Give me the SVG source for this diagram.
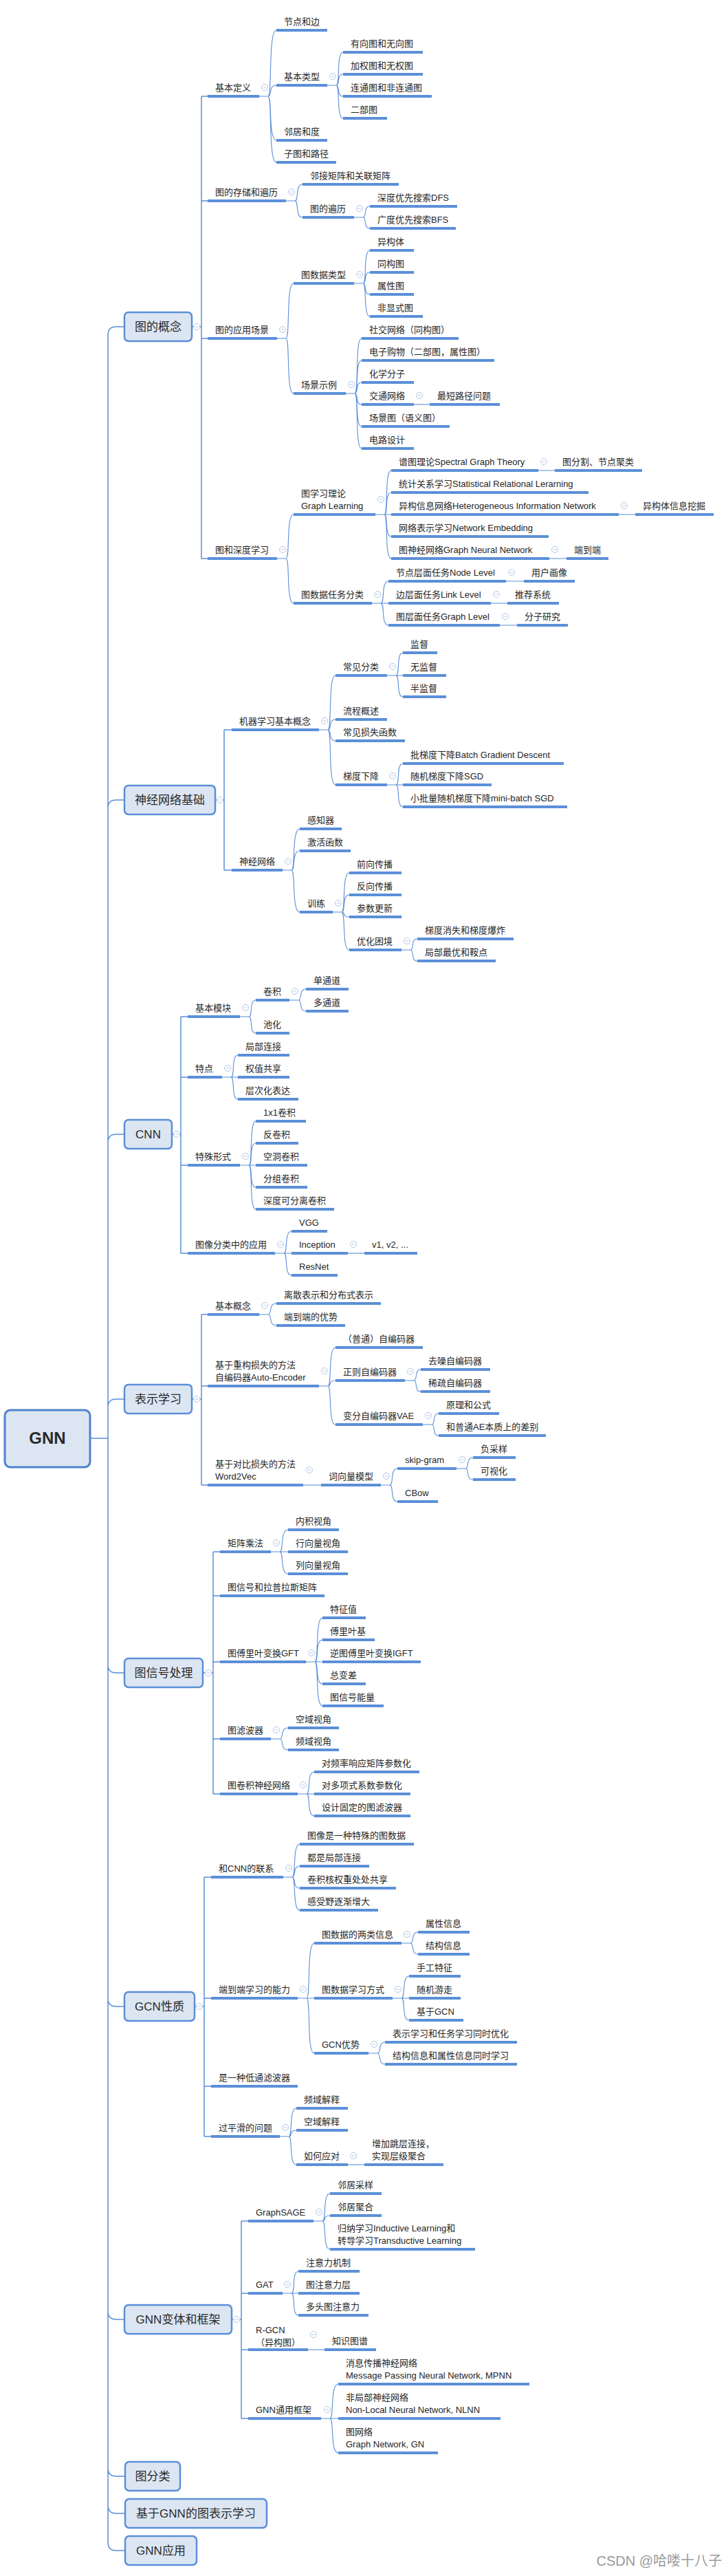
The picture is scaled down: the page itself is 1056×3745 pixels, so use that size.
<svg xmlns="http://www.w3.org/2000/svg" xmlns:xlink="http://www.w3.org/1999/xlink" width="1056" height="3745" viewBox="0 0 1056 3745">
<style>
.t{font-family:"Liberation Sans","Noto Sans CJK SC",sans-serif;font-size:13px;fill:#262626}
.m{font-family:"Liberation Sans","Noto Sans CJK SC",sans-serif;font-size:17px;fill:#2a2a2a;text-anchor:middle}
.r{font-family:"Liberation Sans","Noto Sans CJK SC",sans-serif;font-size:24px;font-weight:bold;fill:#2a2a2a;text-anchor:middle}
.u{fill:#5b8fd8}
.b{fill:#dce6f3;stroke:#5b8fd8;stroke-width:2.5}
.rb{fill:#dce6f3;stroke:#4f83cc;stroke-width:3}
.c{fill:none;stroke:#5b8fd8;stroke-width:1.1}
.c2{fill:none;stroke:#5b8fd8;stroke-width:1.5}
.w{font-family:"Liberation Sans","Noto Sans CJK SC",sans-serif;font-size:20px;fill:#9a9a9a;text-anchor:end}
</style>
<defs>
<g id="ic"><circle r="4.5" fill="#fff" stroke="#b3c6e6" stroke-width="1"/><path d="M-2.2 0H2.2" stroke="#b3c6e6" stroke-width="1"/></g>
</defs>
<rect width="1056" height="3745" fill="#fff"/>

<g id="connectors">
<!-- main trunk -->
<path class="c2" d="M131 2091H157 M157 2091V487Q157 475 169 475H181 M157 2091V1175Q157 1163 169 1163H181 M157 2091V1661Q157 1649 169 1649H181 M157 2091V2046Q157 2034 169 2034H181 M157 2091V2420Q157 2432 169 2432H181 M157 2091V2905Q157 2917 169 2917H181 M157 2091V3360Q157 3372 169 3372H181 M157 2091V3588Q157 3600 169 3600H182 M157 2091V3642Q157 3654 169 3654H182 M157 2091V3696Q157 3708 169 3708H182"/>
<!-- branch trunks -->
<path class="c2" d="M279 475H293 M293 140V812 M293 140H302 M293 292H302 M293 492H302 M293 812H302"/>
<path class="c2" d="M313 1163H326 M326 1061V1265 M326 1061H337 M326 1265H337"/>
<path class="c2" d="M250 1649H263 M263 1478V1822 M263 1478H273 M263 1566H273 M263 1694H273 M263 1822H273"/>
<path class="c2" d="M279 2034H293 M293 1911V2159 M293 1911H302 M293 2015H302 M293 2159H302"/>
<path class="c2" d="M295 2432H310 M310 2256V2608 M310 2256H320 M310 2320H320 M310 2416H320 M310 2528H320 M310 2608H320"/>
<path class="c2" d="M283 2917H297 M297 2729V3106 M297 2729H307 M297 2905H307 M297 3033H307 M297 3106H307"/>
<path class="c2" d="M337 3372H351 M351 3229V3516 M351 3229H361 M351 3334H361 M351 3416H361 M351 3516H361"/>
<!-- branch 1 -->
<path class="c" d="M377 140H390 M390 140C396 140 390 44 402 44 M390 140C396 140 390 124 402 124 M390 140C396 140 390 204 402 204 M390 140C396 140 390 236 402 236"/>
<path class="c" d="M476 124H489 M489 124C495 124 489 76 499 76 M489 124C495 124 489 108 499 108 M489 124C495 124 489 140 499 140 M489 124C495 124 489 172 499 172"/>
<path class="c" d="M416 292H429 M429 292C435 292 429 268 440 268 M429 292C435 292 429 316 440 316"/>
<path class="c" d="M515 316H528 M528 316C534 316 528 300 538 300 M528 316C534 316 528 332 538 332"/>
<path class="c" d="M403 492H416 M416 492C422 492 416 412 427 412 M416 492C422 492 416 572 427 572"/>
<path class="c" d="M515 412H528 M528 412C534 412 528 364 538 364 M528 412C534 412 528 396 538 396 M528 412C534 412 528 428 538 428 M528 412C534 412 528 460 538 460"/>
<path class="c" d="M503 572H516 M516 572C522 572 516 492 526 492 M516 572C522 572 516 524 526 524 M516 572C522 572 516 556 526 556 M516 572C522 572 516 588 526 588 M516 572C522 572 516 620 526 620 M516 572C522 572 516 652 526 652"/>
<path class="c" d="M602 588H625"/>
<path class="c" d="M403 812H416 M416 812C422 812 416 748 427 748 M416 812C422 812 416 877 427 877"/>
<path class="c" d="M546 748H559 M559 748C565 748 559 684 569 684 M559 748C565 748 559 716 569 716 M559 748C565 748 559 748 569 748 M559 748C565 748 559 780 569 780 M559 748C565 748 559 812 569 812"/>
<path class="c" d="M783 684H807 M900 748H924 M799 812H824"/>
<path class="c" d="M541 877H554 M554 877C560 877 554 845 565 845 M554 877C560 877 554 877 565 877 M554 877C560 877 554 909 565 909"/>
<path class="c" d="M736 845H762 M714 877H738 M727 909H752"/>
<!-- branch 2 -->
<path class="c" d="M464 1061H477 M477 1061C483 1061 477 982 488 982 M477 1061C483 1061 477 1046 488 1046 M477 1061C483 1061 477 1077 488 1077 M477 1061C483 1061 477 1141 488 1141"/>
<path class="c" d="M563 982H576 M576 982C582 982 576 949 586 949 M576 982C582 982 576 982 586 982 M576 982C582 982 576 1013 586 1013"/>
<path class="c" d="M563 1141H576 M576 1141C582 1141 576 1110 586 1110 M576 1141C582 1141 576 1141 586 1141 M576 1141C582 1141 576 1173 586 1173"/>
<path class="c" d="M411 1265H424 M424 1265C430 1265 424 1205 436 1205 M424 1265C430 1265 424 1237 436 1237 M424 1265C430 1265 424 1326 436 1326"/>
<path class="c" d="M484 1326H497 M497 1326C503 1326 497 1269 508 1269 M497 1326C503 1326 497 1301 508 1301 M497 1326C503 1326 497 1333 508 1333 M497 1326C503 1326 497 1381 508 1381"/>
<path class="c" d="M584 1381H597 M597 1381C603 1381 597 1365 607 1365 M597 1381C603 1381 597 1397 607 1397"/>
<!-- branch 3 -->
<path class="c" d="M349 1478H362 M362 1478C368 1478 362 1454 372 1454 M362 1478C368 1478 362 1502 372 1502"/>
<path class="c" d="M421 1454H434 M434 1454C440 1454 434 1438 445 1438 M434 1454C440 1454 434 1470 445 1470"/>
<path class="c" d="M323 1566H336 M336 1566C342 1566 336 1534 346 1534 M336 1566C342 1566 336 1566 346 1566 M336 1566C342 1566 336 1598 346 1598"/>
<path class="c" d="M349 1694H362 M362 1694C368 1694 362 1630 372 1630 M362 1694C368 1694 362 1662 372 1662 M362 1694C368 1694 362 1694 372 1694 M362 1694C368 1694 362 1726 372 1726 M362 1694C368 1694 362 1758 372 1758"/>
<path class="c" d="M400 1822H413 M413 1822C419 1822 413 1790 424 1790 M413 1822C419 1822 413 1822 424 1822 M413 1822C419 1822 413 1854 424 1854"/>
<path class="c" d="M506 1822H530"/>
<!-- branch 4 -->
<path class="c" d="M377 1911H390 M390 1911C396 1911 390 1895 402 1895 M390 1911C396 1911 390 1927 402 1927"/>
<path class="c" d="M464 2015H477 M477 2015C483 2015 477 1959 488 1959 M477 2015C483 2015 477 2007 488 2007 M477 2015C483 2015 477 2071 488 2071"/>
<path class="c" d="M589 2007H602 M602 2007C608 2007 602 1991 612 1991 M602 2007C608 2007 602 2023 612 2023"/>
<path class="c" d="M615 2071H628 M628 2071C634 2071 628 2055 638 2055 M628 2071C634 2071 628 2087 638 2087"/>
<path class="c" d="M441 2159H467"/>
<path class="c" d="M554 2159H567 M567 2159C573 2159 567 2135 578 2135 M567 2159C573 2159 567 2183 578 2183"/>
<path class="c" d="M664 2135H677 M677 2135C683 2135 677 2119 688 2119 M677 2135C683 2135 677 2151 688 2151"/>
<!-- branch 5 -->
<path class="c" d="M394 2256H407 M407 2256C413 2256 407 2224 419 2224 M407 2256C413 2256 407 2256 419 2256 M407 2256C413 2256 407 2288 419 2288"/>
<path class="c" d="M445 2416H458 M458 2416C464 2416 458 2352 469 2352 M458 2416C464 2416 458 2384 469 2384 M458 2416C464 2416 458 2416 469 2416 M458 2416C464 2416 458 2448 469 2448 M458 2416C464 2416 458 2480 469 2480"/>
<path class="c" d="M394 2528H407 M407 2528C413 2528 407 2512 419 2512 M407 2528C413 2528 407 2544 419 2544"/>
<path class="c" d="M433 2608H446 M446 2608C452 2608 446 2576 457 2576 M446 2608C452 2608 446 2608 457 2608 M446 2608C452 2608 446 2640 457 2640"/>
<!-- branch 6 -->
<path class="c" d="M412 2729H425 M425 2729C431 2729 425 2681 436 2681 M425 2729C431 2729 425 2713 436 2713 M425 2729C431 2729 425 2745 436 2745 M425 2729C431 2729 425 2777 436 2777"/>
<path class="c" d="M433 2905H446 M446 2905C452 2905 446 2825 457 2825 M446 2905C452 2905 446 2905 457 2905 M446 2905C452 2905 446 2985 457 2985"/>
<path class="c" d="M584 2825H597 M597 2825C603 2825 597 2809 608 2809 M597 2825C603 2825 597 2841 608 2841"/>
<path class="c" d="M571 2905H584 M584 2905C590 2905 584 2873 595 2873 M584 2905C590 2905 584 2905 595 2905 M584 2905C590 2905 584 2937 595 2937"/>
<path class="c" d="M536 2985H549 M549 2985C555 2985 549 2969 560 2969 M549 2985C555 2985 549 3001 560 3001"/>
<path class="c" d="M407 3106H420 M420 3106C426 3106 420 3065 431 3065 M420 3106C426 3106 420 3097 431 3097 M420 3106C426 3106 420 3147 431 3147"/>
<path class="c" d="M506 3147H530"/>
<!-- branch 7 -->
<path class="c" d="M456 3229H469 M469 3229C475 3229 469 3189 480 3189 M469 3229C475 3229 469 3221 480 3221 M469 3229C475 3229 469 3270 480 3270"/>
<path class="c" d="M411 3334H424 M424 3334C430 3334 424 3302 434 3302 M424 3334C430 3334 424 3334 434 3334 M424 3334C430 3334 424 3366 434 3366"/>
<path class="c" d="M448 3416H472"/>
<path class="c" d="M467 3516H480 M480 3516C486 3516 480 3466 492 3466 M480 3516C486 3516 480 3516 492 3516 M480 3516C486 3516 480 3566 492 3566"/>
</g>

<g id="root"><rect class="rb" x="7" y="2050" width="124" height="83" rx="8"/><text class="r" x="69" y="2099">GNN</text></g>

<!-- main topics -->
<g id="m1"><rect class="b" x="181" y="454" width="98" height="42" rx="6"/><text class="m" x="230" y="481">图的概念</text><use href="#ic" x="286" y="475"/></g>
<g id="m2"><rect class="b" x="181" y="1142" width="132" height="42" rx="6"/><text class="m" x="247" y="1169">神经网络基础</text><use href="#ic" x="320" y="1163"/></g>
<g id="m3"><rect class="b" x="181" y="1628" width="69" height="42" rx="6"/><text class="m" x="215.5" y="1655">CNN</text><use href="#ic" x="257" y="1649"/></g>
<g id="m4"><rect class="b" x="181" y="2013" width="98" height="42" rx="6"/><text class="m" x="230" y="2040">表示学习</text><use href="#ic" x="286" y="2034"/></g>
<g id="m5"><rect class="b" x="181" y="2411" width="114" height="42" rx="6"/><text class="m" x="238" y="2438">图信号处理</text><use href="#ic" x="303" y="2432"/></g>
<g id="m6"><rect class="b" x="181" y="2896" width="102" height="42" rx="6"/><text class="m" x="232" y="2923">GCN性质</text><use href="#ic" x="290" y="2917"/></g>
<g id="m7"><rect class="b" x="181" y="3351" width="156" height="42" rx="6"/><text class="m" x="259" y="3378">GNN变体和框架</text><use href="#ic" x="344" y="3372"/></g>
<g id="m8"><rect class="b" x="182" y="3579" width="80" height="42" rx="6"/><text class="m" x="222" y="3606">图分类</text></g>
<g id="m9"><rect class="b" x="182" y="3633" width="206" height="42" rx="6"/><text class="m" x="285" y="3660">基于GNN的图表示学习</text></g>
<g id="m10"><rect class="b" x="182" y="3687" width="104" height="42" rx="6"/><text class="m" x="234" y="3714">GNN应用</text></g>

<!-- branch 1 nodes -->
<g id="n101"><rect class="u" x="302" y="138" width="75" height="4"/><text class="t" x="313" y="132">基本定义</text><use href="#ic" x="385" y="127"/></g>
<g id="n102"><rect class="u" x="402" y="42" width="74" height="4"/><text class="t" x="413" y="36">节点和边</text></g>
<g id="n103"><rect class="u" x="402" y="122" width="74" height="4"/><text class="t" x="413" y="116">基本类型</text><use href="#ic" x="484" y="111"/></g>
<g id="n104"><rect class="u" x="499" y="74" width="116" height="4"/><text class="t" x="510" y="68">有向图和无向图</text></g>
<g id="n105"><rect class="u" x="499" y="106" width="116" height="4"/><text class="t" x="510" y="100">加权图和无权图</text></g>
<g id="n106"><rect class="u" x="499" y="138" width="129" height="4"/><text class="t" x="510" y="132">连通图和非连通图</text></g>
<g id="n107"><rect class="u" x="499" y="170" width="64" height="4"/><text class="t" x="510" y="164">二部图</text></g>
<g id="n108"><rect class="u" x="402" y="202" width="74" height="4"/><text class="t" x="413" y="196">邻居和度</text></g>
<g id="n109"><rect class="u" x="402" y="234" width="87" height="4"/><text class="t" x="413" y="228">子图和路径</text></g>
<g id="n110"><rect class="u" x="302" y="290" width="114" height="4"/><text class="t" x="313" y="284">图的存储和遍历</text><use href="#ic" x="424" y="279"/></g>
<g id="n111"><rect class="u" x="440" y="266" width="140" height="4"/><text class="t" x="451" y="260">邻接矩阵和关联矩阵</text></g>
<g id="n112"><rect class="u" x="440" y="314" width="75" height="4"/><text class="t" x="451" y="308">图的遍历</text><use href="#ic" x="523" y="303"/></g>
<g id="n113"><rect class="u" x="538" y="298" width="127" height="4"/><text class="t" x="549" y="292">深度优先搜索DFS</text></g>
<g id="n114"><rect class="u" x="538" y="330" width="125" height="4"/><text class="t" x="549" y="324">广度优先搜索BFS</text></g>
<g id="n115"><rect class="u" x="302" y="490" width="101" height="4"/><text class="t" x="313" y="484">图的应用场景</text><use href="#ic" x="411" y="479"/></g>
<g id="n116"><rect class="u" x="427" y="410" width="88" height="4"/><text class="t" x="438" y="404">图数据类型</text><use href="#ic" x="523" y="399"/></g>
<g id="n117"><rect class="u" x="538" y="362" width="64" height="4"/><text class="t" x="549" y="356">异构体</text></g>
<g id="n118"><rect class="u" x="538" y="394" width="64" height="4"/><text class="t" x="549" y="388">同构图</text></g>
<g id="n119"><rect class="u" x="538" y="426" width="64" height="4"/><text class="t" x="549" y="420">属性图</text></g>
<g id="n120"><rect class="u" x="538" y="458" width="77" height="4"/><text class="t" x="549" y="452">非显式图</text></g>
<g id="n121"><rect class="u" x="427" y="570" width="76" height="4"/><text class="t" x="438" y="564">场景示例</text><use href="#ic" x="511" y="559"/></g>
<g id="n122"><rect class="u" x="526" y="490" width="141" height="4"/><text class="t" x="537" y="484">社交网络（同构图）</text></g>
<g id="n123"><rect class="u" x="526" y="522" width="193" height="4"/><text class="t" x="537" y="516">电子购物（二部图，属性图）</text></g>
<g id="n124"><rect class="u" x="526" y="554" width="76" height="4"/><text class="t" x="537" y="548">化学分子</text></g>
<g id="n125"><rect class="u" x="526" y="586" width="76" height="4"/><text class="t" x="537" y="580">交通网络</text><use href="#ic" x="610" y="575"/></g>
<g id="n126"><rect class="u" x="625" y="586" width="102" height="4"/><text class="t" x="636" y="580">最短路径问题</text></g>
<g id="n127"><rect class="u" x="526" y="618" width="128" height="4"/><text class="t" x="537" y="612">场景图（语义图）</text></g>
<g id="n128"><rect class="u" x="526" y="650" width="76" height="4"/><text class="t" x="537" y="644">电路设计</text></g>
<g id="n129"><rect class="u" x="302" y="810" width="101" height="4"/><text class="t" x="313" y="804">图和深度学习</text><use href="#ic" x="411" y="799"/></g>
<g id="n130"><rect class="u" x="427" y="746" width="119" height="4"/><text class="t" x="438" y="722">图学习理论</text><text class="t" x="438" y="740">Graph Learning</text><use href="#ic" x="554" y="726"/></g>
<g id="n131"><rect class="u" x="569" y="682" width="214" height="4"/><text class="t" x="580" y="676">谱图理论Spectral Graph Theory</text><use href="#ic" x="791" y="671"/></g>
<g id="n132"><rect class="u" x="807" y="682" width="127" height="4"/><text class="t" x="818" y="676">图分割、节点聚类</text></g>
<g id="n133"><rect class="u" x="569" y="714" width="287" height="4"/><text class="t" x="580" y="708">统计关系学习Statistical Relational Lerarning</text></g>
<g id="n134"><rect class="u" x="569" y="746" width="331" height="4"/><text class="t" x="580" y="740">异构信息网络Heterogeneous Information Network</text><use href="#ic" x="908" y="735"/></g>
<g id="n135"><rect class="u" x="924" y="746" width="114" height="4"/><text class="t" x="935" y="740">异构体信息挖掘</text></g>
<g id="n136"><rect class="u" x="569" y="778" width="229" height="4"/><text class="t" x="580" y="772">网络表示学习Network Embedding</text></g>
<g id="n137"><rect class="u" x="569" y="810" width="230" height="4"/><text class="t" x="580" y="804">图神经网络Graph Neural Network</text><use href="#ic" x="807" y="799"/></g>
<g id="n138"><rect class="u" x="824" y="810" width="61" height="4"/><text class="t" x="835" y="804">端到端</text></g>
<g id="n139"><rect class="u" x="427" y="875" width="114" height="4"/><text class="t" x="438" y="869">图数据任务分类</text><use href="#ic" x="549" y="864"/></g>
<g id="n140"><rect class="u" x="565" y="843" width="171" height="4"/><text class="t" x="576" y="837">节点层面任务Node Level</text><use href="#ic" x="744" y="832"/></g>
<g id="n141"><rect class="u" x="762" y="843" width="74" height="4"/><text class="t" x="773" y="837">用户画像</text></g>
<g id="n142"><rect class="u" x="565" y="875" width="149" height="4"/><text class="t" x="576" y="869">边层面任务Link Level</text><use href="#ic" x="722" y="864"/></g>
<g id="n143"><rect class="u" x="738" y="875" width="75" height="4"/><text class="t" x="749" y="869">推荐系统</text></g>
<g id="n144"><rect class="u" x="565" y="907" width="162" height="4"/><text class="t" x="576" y="901">图层面任务Graph Level</text><use href="#ic" x="735" y="896"/></g>
<g id="n145"><rect class="u" x="752" y="907" width="74" height="4"/><text class="t" x="763" y="901">分子研究</text></g>

<!-- branch 2 nodes -->
<g id="n201"><rect class="u" x="337" y="1059" width="127" height="4"/><text class="t" x="348" y="1053">机器学习基本概念</text><use href="#ic" x="472" y="1048"/></g>
<g id="n202"><rect class="u" x="488" y="980" width="75" height="4"/><text class="t" x="499" y="974">常见分类</text><use href="#ic" x="571" y="969"/></g>
<g id="n203"><rect class="u" x="586" y="947" width="50" height="4"/><text class="t" x="597" y="941">监督</text></g>
<g id="n204"><rect class="u" x="586" y="980" width="63" height="4"/><text class="t" x="597" y="974">无监督</text></g>
<g id="n205"><rect class="u" x="586" y="1011" width="63" height="4"/><text class="t" x="597" y="1005">半监督</text></g>
<g id="n206"><rect class="u" x="488" y="1044" width="75" height="4"/><text class="t" x="499" y="1038">流程概述</text></g>
<g id="n207"><rect class="u" x="488" y="1075" width="101" height="4"/><text class="t" x="499" y="1069">常见损失函数</text></g>
<g id="n208"><rect class="u" x="488" y="1139" width="75" height="4"/><text class="t" x="499" y="1133">梯度下降</text><use href="#ic" x="571" y="1128"/></g>
<g id="n209"><rect class="u" x="586" y="1108" width="234" height="4"/><text class="t" x="597" y="1102">批梯度下降Batch Gradient Descent</text></g>
<g id="n210"><rect class="u" x="586" y="1139" width="129" height="4"/><text class="t" x="597" y="1133">随机梯度下降SGD</text></g>
<g id="n211"><rect class="u" x="586" y="1171" width="239" height="4"/><text class="t" x="597" y="1165">小批量随机梯度下降mini-batch SGD</text></g>
<g id="n212"><rect class="u" x="337" y="1263" width="74" height="4"/><text class="t" x="348" y="1257">神经网络</text><use href="#ic" x="419" y="1252"/></g>
<g id="n213"><rect class="u" x="436" y="1203" width="61" height="4"/><text class="t" x="447" y="1197">感知器</text></g>
<g id="n214"><rect class="u" x="436" y="1235" width="74" height="4"/><text class="t" x="447" y="1229">激活函数</text></g>
<g id="n215"><rect class="u" x="436" y="1324" width="48" height="4"/><text class="t" x="447" y="1318">训练</text><use href="#ic" x="492" y="1313"/></g>
<g id="n216"><rect class="u" x="508" y="1267" width="76" height="4"/><text class="t" x="519" y="1261">前向传播</text></g>
<g id="n217"><rect class="u" x="508" y="1299" width="76" height="4"/><text class="t" x="519" y="1293">反向传播</text></g>
<g id="n218"><rect class="u" x="508" y="1331" width="76" height="4"/><text class="t" x="519" y="1325">参数更新</text></g>
<g id="n219"><rect class="u" x="508" y="1379" width="76" height="4"/><text class="t" x="519" y="1373">优化困境</text><use href="#ic" x="592" y="1368"/></g>
<g id="n220"><rect class="u" x="607" y="1363" width="140" height="4"/><text class="t" x="618" y="1357">梯度消失和梯度爆炸</text></g>
<g id="n221"><rect class="u" x="607" y="1395" width="114" height="4"/><text class="t" x="618" y="1389">局部最优和鞍点</text></g>

<!-- branch 3 nodes -->
<g id="n301"><rect class="u" x="273" y="1476" width="76" height="4"/><text class="t" x="284" y="1470">基本模块</text><use href="#ic" x="357" y="1465"/></g>
<g id="n302"><rect class="u" x="372" y="1452" width="49" height="4"/><text class="t" x="383" y="1446">卷积</text><use href="#ic" x="429" y="1441"/></g>
<g id="n303"><rect class="u" x="445" y="1436" width="62" height="4"/><text class="t" x="456" y="1430">单通道</text></g>
<g id="n304"><rect class="u" x="445" y="1468" width="62" height="4"/><text class="t" x="456" y="1462">多通道</text></g>
<g id="n305"><rect class="u" x="372" y="1500" width="49" height="4"/><text class="t" x="383" y="1494">池化</text></g>
<g id="n306"><rect class="u" x="273" y="1564" width="50" height="4"/><text class="t" x="284" y="1558">特点</text><use href="#ic" x="331" y="1553"/></g>
<g id="n307"><rect class="u" x="346" y="1532" width="75" height="4"/><text class="t" x="357" y="1526">局部连接</text></g>
<g id="n308"><rect class="u" x="346" y="1564" width="75" height="4"/><text class="t" x="357" y="1558">权值共享</text></g>
<g id="n309"><rect class="u" x="346" y="1596" width="88" height="4"/><text class="t" x="357" y="1590">层次化表达</text></g>
<g id="n310"><rect class="u" x="273" y="1692" width="76" height="4"/><text class="t" x="284" y="1686">特殊形式</text><use href="#ic" x="357" y="1681"/></g>
<g id="n311"><rect class="u" x="372" y="1628" width="73" height="4"/><text class="t" x="383" y="1622">1x1卷积</text></g>
<g id="n312"><rect class="u" x="372" y="1660" width="62" height="4"/><text class="t" x="383" y="1654">反卷积</text></g>
<g id="n313"><rect class="u" x="372" y="1692" width="75" height="4"/><text class="t" x="383" y="1686">空洞卷积</text></g>
<g id="n314"><rect class="u" x="372" y="1724" width="75" height="4"/><text class="t" x="383" y="1718">分组卷积</text></g>
<g id="n315"><rect class="u" x="372" y="1756" width="114" height="4"/><text class="t" x="383" y="1750">深度可分离卷积</text></g>
<g id="n316"><rect class="u" x="273" y="1820" width="127" height="4"/><text class="t" x="284" y="1814">图像分类中的应用</text><use href="#ic" x="408" y="1809"/></g>
<g id="n317"><rect class="u" x="424" y="1788" width="52" height="4"/><text class="t" x="435" y="1782">VGG</text></g>
<g id="n318"><rect class="u" x="424" y="1820" width="82" height="4"/><text class="t" x="435" y="1814">Inception</text><use href="#ic" x="514" y="1809"/></g>
<g id="n319"><rect class="u" x="530" y="1820" width="77" height="4"/><text class="t" x="541" y="1814">v1, v2, ...</text></g>
<g id="n320"><rect class="u" x="424" y="1852" width="67" height="4"/><text class="t" x="435" y="1846">ResNet</text></g>

<!-- branch 4 nodes -->
<g id="n401"><rect class="u" x="302" y="1909" width="75" height="4"/><text class="t" x="313" y="1903">基本概念</text><use href="#ic" x="385" y="1898"/></g>
<g id="n402"><rect class="u" x="402" y="1893" width="152" height="4"/><text class="t" x="413" y="1887">离散表示和分布式表示</text></g>
<g id="n403"><rect class="u" x="402" y="1925" width="100" height="4"/><text class="t" x="413" y="1919">端到端的优势</text></g>
<g id="n404"><rect class="u" x="302" y="2013" width="162" height="4"/><text class="t" x="313" y="1989">基于重构损失的方法</text><text class="t" x="313" y="2007">自编码器Auto-Encoder</text><use href="#ic" x="472" y="1993"/></g>
<g id="n405"><rect class="u" x="488" y="1957" width="127" height="4"/><text class="t" x="499" y="1951">（普通）自编码器</text></g>
<g id="n406"><rect class="u" x="488" y="2005" width="101" height="4"/><text class="t" x="499" y="1999">正则自编码器</text><use href="#ic" x="597" y="1994"/></g>
<g id="n407"><rect class="u" x="612" y="1989" width="101" height="4"/><text class="t" x="623" y="1983">去噪自编码器</text></g>
<g id="n408"><rect class="u" x="612" y="2021" width="101" height="4"/><text class="t" x="623" y="2015">稀疏自编码器</text></g>
<g id="n409"><rect class="u" x="488" y="2069" width="127" height="4"/><text class="t" x="499" y="2063">变分自编码器VAE</text><use href="#ic" x="623" y="2058"/></g>
<g id="n410"><rect class="u" x="638" y="2053" width="88" height="4"/><text class="t" x="649" y="2047">原理和公式</text></g>
<g id="n411"><rect class="u" x="638" y="2085" width="156" height="4"/><text class="t" x="649" y="2079">和普通AE本质上的差别</text></g>
<g id="n412"><rect class="u" x="302" y="2157" width="139" height="4"/><text class="t" x="313" y="2133">基于对比损失的方法</text><text class="t" x="313" y="2151">Word2Vec</text><use href="#ic" x="450" y="2137"/></g>
<g id="n413"><rect class="u" x="467" y="2157" width="87" height="4"/><text class="t" x="478" y="2151">词向量模型</text><use href="#ic" x="562" y="2146"/></g>
<g id="n414"><rect class="u" x="578" y="2133" width="86" height="4"/><text class="t" x="589" y="2127">skip-gram</text><use href="#ic" x="672" y="2122"/></g>
<g id="n415"><rect class="u" x="688" y="2117" width="62" height="4"/><text class="t" x="699" y="2111">负采样</text></g>
<g id="n416"><rect class="u" x="688" y="2149" width="62" height="4"/><text class="t" x="699" y="2143">可视化</text></g>
<g id="n417"><rect class="u" x="578" y="2181" width="59" height="4"/><text class="t" x="589" y="2175">CBow</text></g>

<!-- branch 5 nodes -->
<g id="n501"><rect class="u" x="320" y="2254" width="74" height="4"/><text class="t" x="331" y="2248">矩阵乘法</text><use href="#ic" x="402" y="2243"/></g>
<g id="n502"><rect class="u" x="419" y="2222" width="74" height="4"/><text class="t" x="430" y="2216">内积视角</text></g>
<g id="n503"><rect class="u" x="419" y="2254" width="87" height="4"/><text class="t" x="430" y="2248">行向量视角</text></g>
<g id="n504"><rect class="u" x="419" y="2286" width="87" height="4"/><text class="t" x="430" y="2280">列向量视角</text></g>
<g id="n505"><rect class="u" x="320" y="2318" width="152" height="4"/><text class="t" x="331" y="2312">图信号和拉普拉斯矩阵</text></g>
<g id="n506"><rect class="u" x="320" y="2414" width="125" height="4"/><text class="t" x="331" y="2408">图傅里叶变换GFT</text><use href="#ic" x="453" y="2403"/></g>
<g id="n507"><rect class="u" x="469" y="2350" width="63" height="4"/><text class="t" x="480" y="2344">特征值</text></g>
<g id="n508"><rect class="u" x="469" y="2382" width="76" height="4"/><text class="t" x="480" y="2376">傅里叶基</text></g>
<g id="n509"><rect class="u" x="469" y="2414" width="143" height="4"/><text class="t" x="480" y="2408">逆图傅里叶变换IGFT</text></g>
<g id="n510"><rect class="u" x="469" y="2446" width="63" height="4"/><text class="t" x="480" y="2440">总变差</text></g>
<g id="n511"><rect class="u" x="469" y="2478" width="89" height="4"/><text class="t" x="480" y="2472">图信号能量</text></g>
<g id="n512"><rect class="u" x="320" y="2526" width="74" height="4"/><text class="t" x="331" y="2520">图滤波器</text><use href="#ic" x="402" y="2515"/></g>
<g id="n513"><rect class="u" x="419" y="2510" width="74" height="4"/><text class="t" x="430" y="2504">空域视角</text></g>
<g id="n514"><rect class="u" x="419" y="2542" width="74" height="4"/><text class="t" x="430" y="2536">频域视角</text></g>
<g id="n515"><rect class="u" x="320" y="2606" width="113" height="4"/><text class="t" x="331" y="2600">图卷积神经网络</text><use href="#ic" x="441" y="2595"/></g>
<g id="n516"><rect class="u" x="457" y="2574" width="153" height="4"/><text class="t" x="468" y="2568">对频率响应矩阵参数化</text></g>
<g id="n517"><rect class="u" x="457" y="2606" width="140" height="4"/><text class="t" x="468" y="2600">对多项式系数参数化</text></g>
<g id="n518"><rect class="u" x="457" y="2638" width="140" height="4"/><text class="t" x="468" y="2632">设计固定的图滤波器</text></g>

<!-- branch 6 nodes -->
<g id="n601"><rect class="u" x="307" y="2727" width="105" height="4"/><text class="t" x="318" y="2721">和CNN的联系</text><use href="#ic" x="420" y="2716"/></g>
<g id="n602"><rect class="u" x="436" y="2679" width="166" height="4"/><text class="t" x="447" y="2673">图像是一种特殊的图数据</text></g>
<g id="n603"><rect class="u" x="436" y="2711" width="101" height="4"/><text class="t" x="447" y="2705">都是局部连接</text></g>
<g id="n604"><rect class="u" x="436" y="2743" width="140" height="4"/><text class="t" x="447" y="2737">卷积核权重处处共享</text></g>
<g id="n605"><rect class="u" x="436" y="2775" width="114" height="4"/><text class="t" x="447" y="2769">感受野逐渐增大</text></g>
<g id="n606"><rect class="u" x="307" y="2903" width="126" height="4"/><text class="t" x="318" y="2897">端到端学习的能力</text><use href="#ic" x="441" y="2892"/></g>
<g id="n607"><rect class="u" x="457" y="2823" width="127" height="4"/><text class="t" x="468" y="2817">图数据的两类信息</text><use href="#ic" x="592" y="2812"/></g>
<g id="n608"><rect class="u" x="608" y="2807" width="75" height="4"/><text class="t" x="619" y="2801">属性信息</text></g>
<g id="n609"><rect class="u" x="608" y="2839" width="75" height="4"/><text class="t" x="619" y="2833">结构信息</text></g>
<g id="n610"><rect class="u" x="457" y="2903" width="114" height="4"/><text class="t" x="468" y="2897">图数据学习方式</text><use href="#ic" x="579" y="2892"/></g>
<g id="n611"><rect class="u" x="595" y="2871" width="75" height="4"/><text class="t" x="606" y="2865">手工特征</text></g>
<g id="n612"><rect class="u" x="595" y="2903" width="75" height="4"/><text class="t" x="606" y="2897">随机游走</text></g>
<g id="n613"><rect class="u" x="595" y="2935" width="79" height="4"/><text class="t" x="606" y="2929">基于GCN</text></g>
<g id="n614"><rect class="u" x="457" y="2983" width="79" height="4"/><text class="t" x="468" y="2977">GCN优势</text><use href="#ic" x="544" y="2972"/></g>
<g id="n615"><rect class="u" x="560" y="2967" width="192" height="4"/><text class="t" x="571" y="2961">表示学习和任务学习同时优化</text></g>
<g id="n616"><rect class="u" x="560" y="2999" width="192" height="4"/><text class="t" x="571" y="2993">结构信息和属性信息同时学习</text></g>
<g id="n617"><rect class="u" x="307" y="3031" width="126" height="4"/><text class="t" x="318" y="3025">是一种低通滤波器</text></g>
<g id="n618"><rect class="u" x="307" y="3104" width="100" height="4"/><text class="t" x="318" y="3098">过平滑的问题</text><use href="#ic" x="415" y="3093"/></g>
<g id="n619"><rect class="u" x="431" y="3063" width="75" height="4"/><text class="t" x="442" y="3057">频域解释</text></g>
<g id="n620"><rect class="u" x="431" y="3095" width="75" height="4"/><text class="t" x="442" y="3089">空域解释</text></g>
<g id="n621"><rect class="u" x="431" y="3145" width="75" height="4"/><text class="t" x="442" y="3139">如何应对</text><use href="#ic" x="514" y="3134"/></g>
<g id="n622"><rect class="u" x="530" y="3145" width="115" height="4"/><text class="t" x="541" y="3121">增加跳层连接，</text><text class="t" x="541" y="3139">实现层级聚合</text></g>

<!-- branch 7 nodes -->
<g id="n701"><rect class="u" x="361" y="3227" width="95" height="4"/><text class="t" x="372" y="3221">GraphSAGE</text><use href="#ic" x="464" y="3216"/></g>
<g id="n702"><rect class="u" x="480" y="3187" width="75" height="4"/><text class="t" x="491" y="3181">邻居采样</text></g>
<g id="n703"><rect class="u" x="480" y="3219" width="75" height="4"/><text class="t" x="491" y="3213">邻居聚合</text></g>
<g id="n704"><rect class="u" x="480" y="3268" width="211" height="4"/><text class="t" x="491" y="3244">归纳学习Inductive Learning和</text><text class="t" x="491" y="3262">转导学习Transductive Learning</text></g>
<g id="n705"><rect class="u" x="361" y="3332" width="50" height="4"/><text class="t" x="372" y="3326">GAT</text><use href="#ic" x="418" y="3321"/></g>
<g id="n706"><rect class="u" x="434" y="3300" width="89" height="4"/><text class="t" x="445" y="3294">注意力机制</text></g>
<g id="n707"><rect class="u" x="434" y="3332" width="89" height="4"/><text class="t" x="445" y="3326">图注意力层</text></g>
<g id="n708"><rect class="u" x="434" y="3364" width="102" height="4"/><text class="t" x="445" y="3358">多头图注意力</text></g>
<g id="n709"><rect class="u" x="361" y="3414" width="87" height="4"/><text class="t" x="372" y="3392">R-GCN</text><text class="t" x="372" y="3410">（异构图）</text><use href="#ic" x="456" y="3394"/></g>
<g id="n710"><rect class="u" x="472" y="3414" width="75" height="4"/><text class="t" x="483" y="3408">知识图谱</text></g>
<g id="n711"><rect class="u" x="361" y="3514" width="106" height="4"/><text class="t" x="372" y="3508">GNN通用框架</text><use href="#ic" x="476" y="3503"/></g>
<g id="n712"><rect class="u" x="492" y="3464" width="278" height="4"/><text class="t" x="503" y="3440">消息传播神经网络</text><text class="t" x="503" y="3458">Message Passing Neural Network, MPNN</text></g>
<g id="n713"><rect class="u" x="492" y="3514" width="236" height="4"/><text class="t" x="503" y="3490">非局部神经网络</text><text class="t" x="503" y="3508">Non-Local Neural Network, NLNN</text></g>
<g id="n714"><rect class="u" x="492" y="3564" width="145" height="4"/><text class="t" x="503" y="3540">图网络</text><text class="t" x="503" y="3558">Graph Network, GN</text></g>

<text class="w" x="1050" y="3730">CSDN @哈喽十八子</text>
</svg>
